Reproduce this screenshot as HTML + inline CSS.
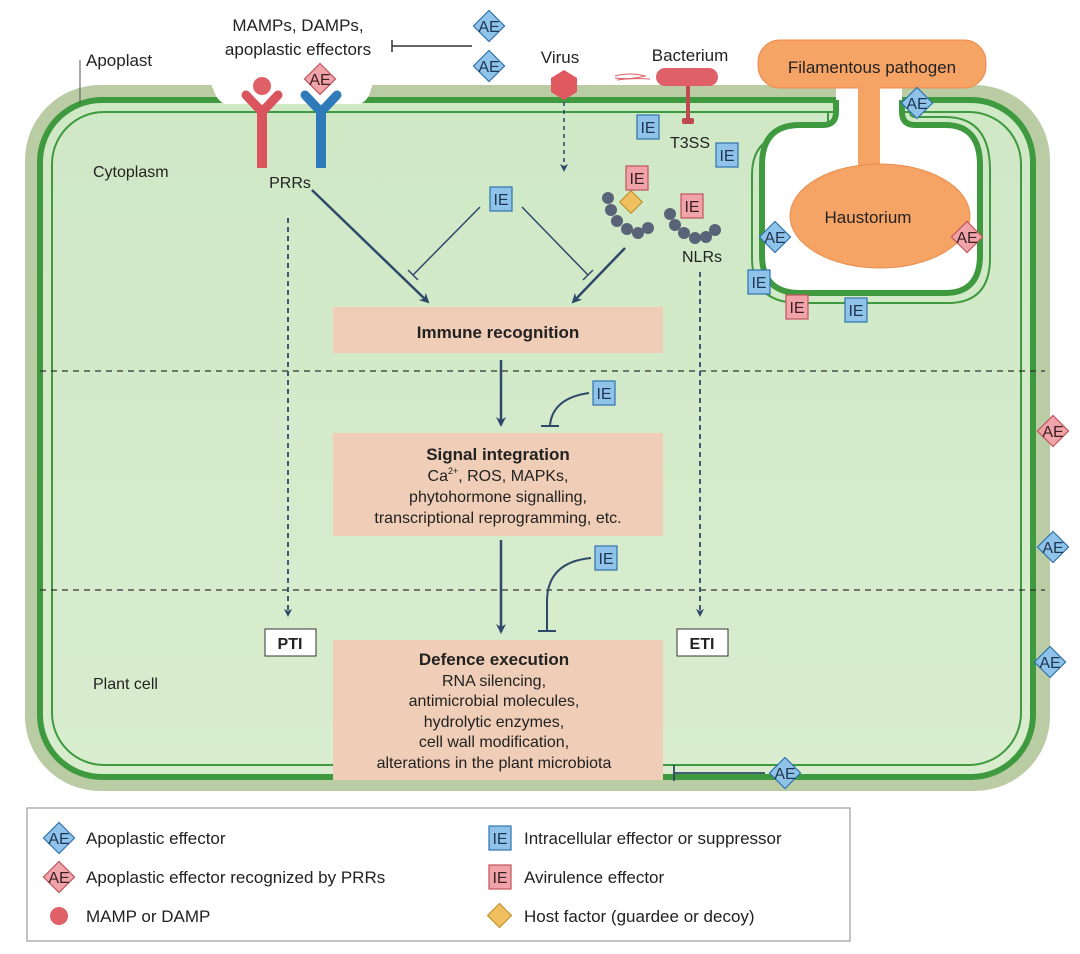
<!DOCTYPE html>
<html><head><meta charset="utf-8"><style>
html,body{margin:0;padding:0;background:#fff;}
svg{display:block;font-family:"Liberation Sans","DejaVu Sans",sans-serif;}
</style></head><body>
<svg width="1080" height="954" viewBox="0 0 1080 954" xmlns="http://www.w3.org/2000/svg">
<defs>
<linearGradient id="cy" x1="0" y1="0" x2="0" y2="1"><stop offset="0" stop-color="#cfe8c6"/><stop offset="1" stop-color="#d9edce"/></linearGradient>
<marker id="ah" markerWidth="10" markerHeight="10" refX="8" refY="5" orient="auto" markerUnits="userSpaceOnUse"><path d="M0,0 L10,5 L0,10 L3,5 Z" fill="#2e4a6a"/></marker>
<marker id="ahs" markerWidth="8" markerHeight="8" refX="6" refY="4" orient="auto" markerUnits="userSpaceOnUse"><path d="M0,0 L8,4 L0,8 L2,4 Z" fill="#2e4a6a"/></marker>
<g id="aeb"><rect x="-11" y="-11" width="22" height="22" transform="rotate(45)" fill="#8fc3ea" stroke="#2f72ad" stroke-width="1.2"/><text x="0" y="6" font-size="16" text-anchor="middle" fill="#1f3550">AE</text></g>
<g id="aep"><rect x="-11" y="-11" width="22" height="22" transform="rotate(45)" fill="#f0a3a8" stroke="#c0545c" stroke-width="1.2"/><text x="0" y="6" font-size="16" text-anchor="middle" fill="#3a2024">AE</text></g>
<g id="ieb"><rect x="-11" y="-12" width="22" height="24" fill="#8fc3ea" stroke="#2f72ad" stroke-width="1.2"/><text x="0" y="6" font-size="16" text-anchor="middle" fill="#1f3550">IE</text></g>
<g id="iep"><rect x="-11" y="-12" width="22" height="24" fill="#f0a3a8" stroke="#c0545c" stroke-width="1.2"/><text x="0" y="6" font-size="16" text-anchor="middle" fill="#3a2024">IE</text></g>
</defs>

<!-- cell wall -->
<rect x="25" y="85" width="1025" height="706" rx="75" fill="#b9cca3"/>
<rect x="40" y="100" width="993" height="677" rx="62" fill="url(#cy)" stroke="#3f9a3f" stroke-width="6"/>
<rect x="52" y="112" width="969" height="653" rx="52" fill="none" stroke="#3f9a3f" stroke-width="2"/>
<!-- white gap around PRRs -->
<path d="M212,84 Q215,100 225,104 L360,104 Q370,100 372,84 Z" fill="#fff"/>
<rect x="212" y="80" width="160" height="8" fill="#fff"/>
<line x1="80" y1="60" x2="80" y2="104" stroke="#555" stroke-width="1"/>

<!-- haustorium invagination -->
<rect x="836" y="84" width="66" height="30" fill="#fff"/>
<path d="M828,112 L828,122 Q828,133 815,133 L798,133 Q752,133 752,175 L752,258 Q752,303 800,303 L948,303 Q990,303 990,258 L990,170 Q990,117 945,117 L916,117 Q910,117 910,112" fill="none" stroke="#3f9a3f" stroke-width="2"/>
<path d="M836,100 L836,112 Q836,125 823,125 L800,125 Q762,125 762,165 L762,255 Q762,293 800,293 L945,293 Q980,293 980,255 L980,165 Q980,125 945,125 L915,125 Q902,125 902,112 L902,100 Z" fill="#fff" stroke="none"/>
<path d="M836,100 L836,112 Q836,125 823,125 L800,125 Q762,125 762,165 L762,255 Q762,293 800,293 L945,293 Q980,293 980,255 L980,165 Q980,125 945,125 L915,125 Q902,125 902,112 L902,100" fill="none" stroke="#3f9a3f" stroke-width="6"/>
<!-- pathogen -->
<rect x="758" y="40" width="228" height="48" rx="22" fill="#f6a466" stroke="#eb8b48" stroke-width="1"/>
<rect x="858" y="86" width="22" height="90" fill="#f6a466"/>
<ellipse cx="880" cy="216" rx="90" ry="52" fill="#f6a466" stroke="#eb8b48" stroke-width="1"/>
<text x="872" y="73" font-size="17" text-anchor="middle" fill="#222">Filamentous pathogen</text>
<text x="868" y="223" font-size="17" text-anchor="middle" fill="#222">Haustorium</text>

<!-- dashed dividers -->
<line x1="40" y1="371" x2="1045" y2="371" stroke="#333" stroke-width="1.2" stroke-dasharray="6,5"/>
<line x1="40" y1="590" x2="1045" y2="590" stroke="#333" stroke-width="1.2" stroke-dasharray="6,5"/>

<!-- labels -->
<text x="86" y="66" font-size="17" fill="#222">Apoplast</text>
<text x="93" y="177" font-size="16" fill="#222">Cytoplasm</text>
<text x="93" y="689" font-size="16" fill="#222">Plant cell</text>
<text x="298" y="31" font-size="17" text-anchor="middle" fill="#222">MAMPs, DAMPs,</text>
<text x="298" y="55" font-size="17" text-anchor="middle" fill="#222">apoplastic effectors</text>
<line x1="392" y1="46" x2="472" y2="46" stroke="#333" stroke-width="1.5"/>
<line x1="392" y1="40" x2="392" y2="52" stroke="#333" stroke-width="1.5"/>
<use href="#aeb" x="489" y="26"/>
<use href="#aeb" x="489" y="66"/>
<text x="560" y="63" font-size="17" text-anchor="middle" fill="#222">Virus</text>
<polygon points="564,70 577,78 577,92 564,100 551,92 551,78" fill="#e05860"/>
<line x1="564" y1="102" x2="564" y2="170" stroke="#2e4a6a" stroke-width="1.6" stroke-dasharray="4,4" marker-end="url(#ahs)"/>
<text x="690" y="61" font-size="17" text-anchor="middle" fill="#222">Bacterium</text>
<path d="M615,76 Q630,72 645,76 Q630,80 615,78 M617,80 Q632,78 650,79" fill="none" stroke="#e06068" stroke-width="1"/>
<rect x="656" y="68" width="62" height="18" rx="9" fill="#e06068"/>
<rect x="686" y="86" width="4" height="34" fill="#c04850"/>
<rect x="682" y="118" width="12" height="6" rx="2" fill="#c04850"/>
<text x="690" y="148" font-size="16" text-anchor="middle" fill="#222">T3SS</text>
<use href="#ieb" x="648" y="127"/>
<use href="#ieb" x="727" y="155"/>
<use href="#aeb" x="917" y="103"/>
<use href="#aeb" x="775" y="237"/>
<use href="#aep" x="967" y="237"/>
<use href="#ieb" x="759" y="282"/>
<use href="#iep" x="797" y="307"/>
<use href="#ieb" x="856" y="310"/>
<use href="#aep" x="1053" y="431"/>
<use href="#aeb" x="1053" y="547"/>
<use href="#aeb" x="1050" y="662"/>

<!-- PRRs -->
<path d="M246,95 L262,112 L278,95" fill="none" stroke="#d9545c" stroke-width="9" stroke-linejoin="round" stroke-linecap="round"/>
<rect x="257" y="110" width="10" height="58" fill="#d9545c"/>
<circle cx="262" cy="86" r="9" fill="#e06068"/>
<path d="M305,95 L321,112 L337,95" fill="none" stroke="#2f7ab8" stroke-width="9" stroke-linejoin="round" stroke-linecap="round"/>
<rect x="316" y="110" width="10" height="58" fill="#2f7ab8"/>
<use href="#aep" x="320" y="79"/>
<text x="290" y="188" font-size="16" text-anchor="middle" fill="#222">PRRs</text>
<line x1="288" y1="218" x2="288" y2="615" stroke="#2e4a6a" stroke-width="1.8" stroke-dasharray="5,4" marker-end="url(#ahs)"/>
<line x1="312" y1="190" x2="428" y2="302" stroke="#2e4a6a" stroke-width="2.5" marker-end="url(#ah)"/>

<!-- central IE inhibitions -->
<use href="#ieb" x="501" y="199"/>
<line x1="480" y1="207" x2="413" y2="275" stroke="#2e4a6a" stroke-width="1.5"/>
<line x1="408" y1="270" x2="418" y2="280" stroke="#2e4a6a" stroke-width="1.5"/>
<line x1="522" y1="207" x2="588" y2="275" stroke="#2e4a6a" stroke-width="1.5"/>
<line x1="583" y1="280" x2="593" y2="270" stroke="#2e4a6a" stroke-width="1.5"/>
<line x1="625" y1="248" x2="573" y2="302" stroke="#2e4a6a" stroke-width="2.5" marker-end="url(#ah)"/>

<!-- NLRs -->
<g fill="#5a6478">
<circle cx="608" cy="198" r="6"/><circle cx="611" cy="210" r="6"/><circle cx="617" cy="221" r="6"/><circle cx="627" cy="229" r="6"/><circle cx="638" cy="233" r="6"/><circle cx="648" cy="228" r="6"/>
<circle cx="670" cy="214" r="6"/><circle cx="675" cy="225" r="6"/><circle cx="684" cy="233" r="6"/><circle cx="695" cy="238" r="6"/><circle cx="706" cy="237" r="6"/><circle cx="715" cy="230" r="6"/>
</g>
<rect x="623" y="194" width="16" height="16" transform="rotate(45 631 202)" fill="#f0c060" stroke="#b88a20"/>
<use href="#iep" x="637" y="178"/>
<use href="#iep" x="692" y="206"/>
<text x="702" y="262" font-size="16" text-anchor="middle" fill="#222">NLRs</text>
<line x1="700" y1="272" x2="700" y2="615" stroke="#2e4a6a" stroke-width="1.8" stroke-dasharray="5,4" marker-end="url(#ahs)"/>

<!-- boxes -->
<rect x="333" y="307" width="330" height="46" fill="#efcdb6"/>
<text x="498" y="338" font-size="17" font-weight="bold" text-anchor="middle" fill="#222">Immune recognition</text>
<line x1="501" y1="360" x2="501" y2="425" stroke="#2e4a6a" stroke-width="2.5" marker-end="url(#ah)"/>
<use href="#ieb" x="604" y="393"/>
<path d="M589,393 Q553,398 550,425" fill="none" stroke="#2e4a6a" stroke-width="2"/>
<line x1="541" y1="426" x2="559" y2="426" stroke="#2e4a6a" stroke-width="2"/>
<rect x="333" y="433" width="330" height="103" fill="#efcdb6"/>
<text x="498" y="460" font-size="17" font-weight="bold" text-anchor="middle" fill="#222">Signal integration</text>
<text x="498" y="481" font-size="16" text-anchor="middle" fill="#222">Ca<tspan font-size="9" dy="-7">2+</tspan><tspan dy="7">, ROS, MAPKs,</tspan></text>
<text x="498" y="502" font-size="16" text-anchor="middle" fill="#222">phytohormone signalling,</text>
<text x="498" y="523" font-size="16" text-anchor="middle" fill="#222">transcriptional reprogramming, etc.</text>
<line x1="501" y1="540" x2="501" y2="632" stroke="#2e4a6a" stroke-width="2.5" marker-end="url(#ah)"/>
<use href="#ieb" x="606" y="558"/>
<path d="M591,558 Q548,562 547,600 L547,631" fill="none" stroke="#2e4a6a" stroke-width="2"/>
<line x1="538" y1="631" x2="556" y2="631" stroke="#2e4a6a" stroke-width="2"/>
<rect x="333" y="640" width="330" height="140" fill="#efcdb6"/>
<text x="494" y="665" font-size="17" font-weight="bold" text-anchor="middle" fill="#222">Defence execution</text>
<text x="494" y="686" font-size="16" text-anchor="middle" fill="#222">RNA silencing,</text>
<text x="494" y="706" font-size="16" text-anchor="middle" fill="#222">antimicrobial molecules,</text>
<text x="494" y="727" font-size="16" text-anchor="middle" fill="#222">hydrolytic enzymes,</text>
<text x="494" y="747" font-size="16" text-anchor="middle" fill="#222">cell wall modification,</text>
<text x="494" y="768" font-size="16" text-anchor="middle" fill="#222">alterations in the plant microbiota</text>
<line x1="674" y1="773" x2="765" y2="773" stroke="#2e4a6a" stroke-width="1.8"/>
<line x1="674" y1="765" x2="674" y2="781" stroke="#2e4a6a" stroke-width="1.8"/>
<use href="#aeb" x="785" y="773"/>

<rect x="265" y="629" width="51" height="27" fill="#fff" stroke="#333" stroke-width="1"/>
<text x="290" y="649" font-size="16" font-weight="bold" text-anchor="middle" fill="#222">PTI</text>
<rect x="677" y="629" width="51" height="27" fill="#fff" stroke="#333" stroke-width="1"/>
<text x="702" y="649" font-size="16" font-weight="bold" text-anchor="middle" fill="#222">ETI</text>

<!-- legend -->
<rect x="27" y="808" width="823" height="133" fill="#fff" stroke="#888" stroke-width="1"/>
<use href="#aeb" x="59" y="838"/>
<text x="86" y="844" font-size="17" fill="#222">Apoplastic effector</text>
<use href="#aep" x="59" y="877"/>
<text x="86" y="883" font-size="17" fill="#222">Apoplastic effector recognized by PRRs</text>
<circle cx="59" cy="916" r="9" fill="#e06068"/>
<text x="86" y="922" font-size="17" fill="#222">MAMP or DAMP</text>
<use href="#ieb" x="500" y="838"/>
<text x="524" y="844" font-size="17" fill="#222">Intracellular effector or suppressor</text>
<use href="#iep" x="500" y="877"/>
<text x="524" y="883" font-size="17" fill="#222">Avirulence effector</text>
<rect x="491" y="907" width="17" height="17" transform="rotate(45 499.5 915.5)" fill="#f0c060" stroke="#b88a20"/>
<text x="524" y="922" font-size="17" fill="#222">Host factor (guardee or decoy)</text>
</svg>
</body></html>
